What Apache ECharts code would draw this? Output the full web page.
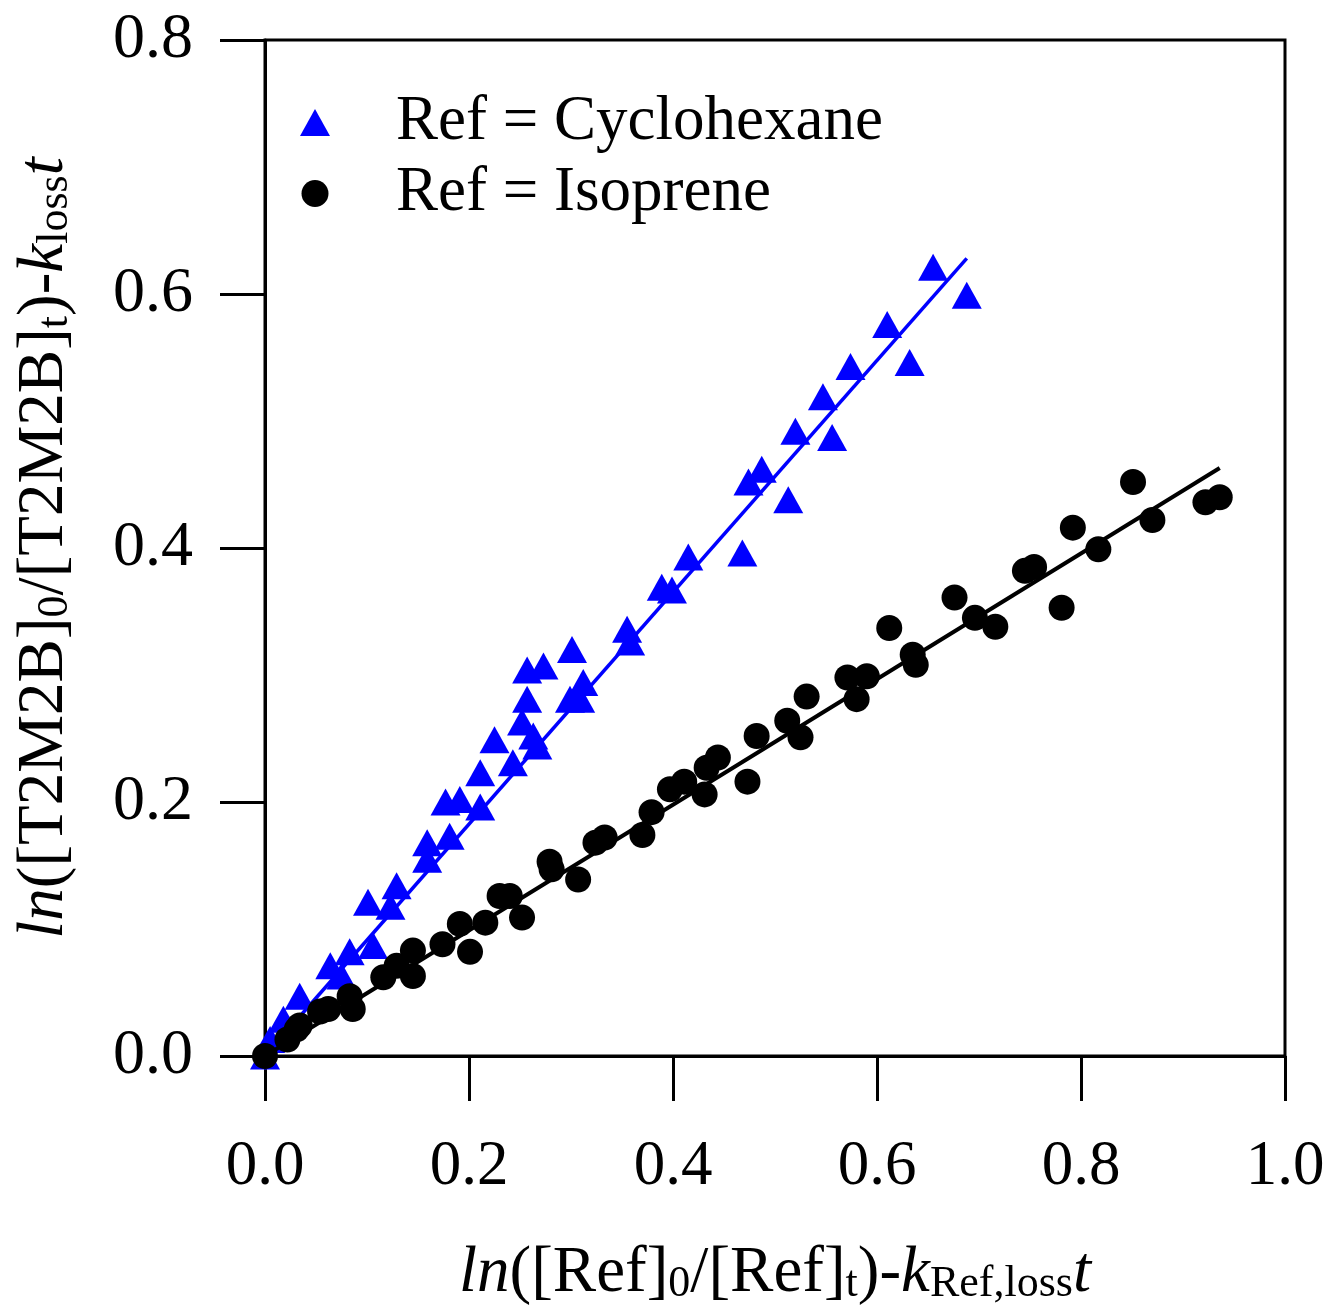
<!DOCTYPE html>
<html>
<head>
<meta charset="utf-8">
<script src="https://cdn.jsdelivr.net/npm/echarts@6/dist/echarts.min.js"></script>
<style>
  html, body { margin: 0; padding: 0; background: #fff; }
  #chart { width: 1329px; height: 1311px; }
</style>
</head>
<body>
<div id="chart"></div>
<script>
// Ref = Cyclohexane (x, y)
const cycloX = [0.000, 0.005, 0.018, 0.034, 0.064, 0.075, 0.083, 0.106, 0.101, 0.123, 0.129,
  0.159, 0.181, 0.159, 0.177, 0.191, 0.211, 0.211, 0.225, 0.243, 0.267, 0.263, 0.252, 0.257,
  0.257, 0.273, 0.301, 0.299, 0.312, 0.309, 0.355, 0.358, 0.389, 0.399, 0.415, 0.468, 0.474,
  0.487, 0.513, 0.520, 0.556, 0.547, 0.574, 0.610, 0.632, 0.655, 0.688];
const cycloY = [0.000, 0.013, 0.029, 0.047, 0.071, 0.063, 0.082, 0.087, 0.121, 0.118, 0.134,
  0.168, 0.173, 0.155, 0.200, 0.202, 0.196, 0.223, 0.249, 0.231, 0.244, 0.252, 0.263, 0.281,
  0.304, 0.307, 0.320, 0.281, 0.294, 0.281, 0.336, 0.326, 0.369, 0.367, 0.393, 0.396, 0.452,
  0.462, 0.438, 0.492, 0.487, 0.519, 0.543, 0.576, 0.546, 0.621, 0.599];

// Ref = Isoprene (x, y)
const isoX = [0.000, 0.022, 0.031, 0.034, 0.054, 0.062, 0.083, 0.086, 0.116, 0.129, 0.145,
  0.145, 0.174, 0.191, 0.201, 0.216, 0.230, 0.240, 0.252, 0.279, 0.281, 0.307, 0.324, 0.333,
  0.370, 0.379, 0.397, 0.411, 0.431, 0.433, 0.444, 0.473, 0.482, 0.512, 0.525, 0.531, 0.571,
  0.580, 0.590, 0.612, 0.635, 0.638, 0.676, 0.696, 0.716, 0.745, 0.754, 0.781, 0.792, 0.817,
  0.851, 0.870, 0.922, 0.936];
const isoY = [0.000, 0.013, 0.021, 0.024, 0.035, 0.037, 0.047, 0.037, 0.062, 0.071, 0.063,
  0.083, 0.088, 0.104, 0.082, 0.105, 0.126, 0.126, 0.109, 0.153, 0.147, 0.139, 0.168, 0.172,
  0.174, 0.192, 0.210, 0.216, 0.206, 0.227, 0.235, 0.216, 0.252, 0.264, 0.251, 0.283, 0.298,
  0.281, 0.299, 0.337, 0.316, 0.308, 0.361, 0.345, 0.338, 0.382, 0.385, 0.353, 0.416, 0.399,
  0.452, 0.422, 0.436, 0.440];

// linear fits (start and end points)
const cycloFitX = [0, 0.688];
const cycloFitY = [0, 0.628];
const isoFitX = [0, 0.936];
const isoFitY = [0, 0.463];

const xTicks = [0, 0.2, 0.4, 0.6, 0.8, 1.0];
const yTicks = [0, 0.2, 0.4, 0.6, 0.8];

const zip = (xs, ys) => xs.map((x, i) => [x, ys[i]]);

const font = "'Liberation Serif', 'Times New Roman', serif";
const richName = {
  n: { fontFamily: font, fontSize: 65, lineHeight: 72, color: '#000', verticalAlign: 'bottom' },
  i: { fontFamily: font, fontSize: 65, lineHeight: 72, color: '#000', fontStyle: 'italic', verticalAlign: 'bottom' },
  s: { fontFamily: font, fontSize: 44, lineHeight: 30, color: '#000', verticalAlign: 'bottom' }
};

const chart = echarts.init(document.getElementById('chart'));

const option = {
  animation: false,
  backgroundColor: '#fff',
  grid: {
    left: 265, right: 44, top: 40, bottom: 254,
    show: true, borderColor: '#000', borderWidth: 3
  },
  legend: {
    orient: 'vertical',
    left: 295,
    top: 86,
    itemWidth: 30,
    itemHeight: 27,
    itemGap: 8,
    data: ['Ref = Cyclohexane', 'Ref = Isoprene'],
    textStyle: { fontFamily: font, fontSize: 63, color: '#000', lineHeight: 50, padding: [0, 0, 0, 61] }
  },
  xAxis: {
    type: 'value',
    min: 0, max: 1, interval: 0.2,
    name: '{i|ln}{n|([Ref]}{s|0}{n|/[Ref]}{s|t}{n|)-}{i|k}{s|Ref,loss}{i|t}',
    nameLocation: 'middle',
    nameGap: 178,
    nameTextStyle: { rich: richName },
    axisLine: { lineStyle: { color: '#000', width: 3 } },
    axisTick: { inside: false, length: 45, lineStyle: { color: '#000', width: 3 } },
    axisLabel: {
      margin: 80, fontFamily: font, fontSize: 63, color: '#000',
      formatter: v => v.toFixed(1),
      customValues: xTicks
    },
    splitLine: { show: false }
  },
  yAxis: {
    type: 'value',
    min: 0, max: 0.8, interval: 0.2,
    name: '{i|ln}{n|([T2M2B]}{s|0}{n|/[T2M2B]}{s|t}{n|)-}{i|k}{s|loss}{i|t}',
    nameLocation: 'middle',
    nameGap: 188,
    nameRotate: 90,
    nameTextStyle: { rich: richName },
    axisLine: { lineStyle: { color: '#000', width: 3 } },
    axisTick: { inside: false, length: 45, lineStyle: { color: '#000', width: 3 } },
    axisLabel: {
      margin: 72, fontFamily: font, fontSize: 64, color: '#000',
      formatter: v => v.toFixed(1),
      customValues: yTicks
    },
    splitLine: { show: false }
  },
  series: [
    {
      name: 'Ref = Cyclohexane',
      type: 'scatter',
      symbol: 'triangle',
      symbolSize: [30, 27],
      itemStyle: { color: '#0000ff', opacity: 1 },
      data: zip(cycloX, cycloY),
      z: 2
    },
    {
      name: 'cyclo fit',
      type: 'line',
      symbol: 'none',
      lineStyle: { color: '#0000ff', width: 3.5 },
      data: zip(cycloFitX, cycloFitY),
      z: 3
    },
    {
      name: 'Ref = Isoprene',
      type: 'scatter',
      symbol: 'circle',
      symbolSize: 26,
      itemStyle: { color: '#000', opacity: 1 },
      data: zip(isoX, isoY),
      z: 4
    },
    {
      name: 'iso fit',
      type: 'line',
      symbol: 'none',
      lineStyle: { color: '#000', width: 4 },
      data: zip(isoFitX, isoFitY),
      z: 5
    }
  ]
};

chart.setOption(option);
</script>
</body>
</html>
